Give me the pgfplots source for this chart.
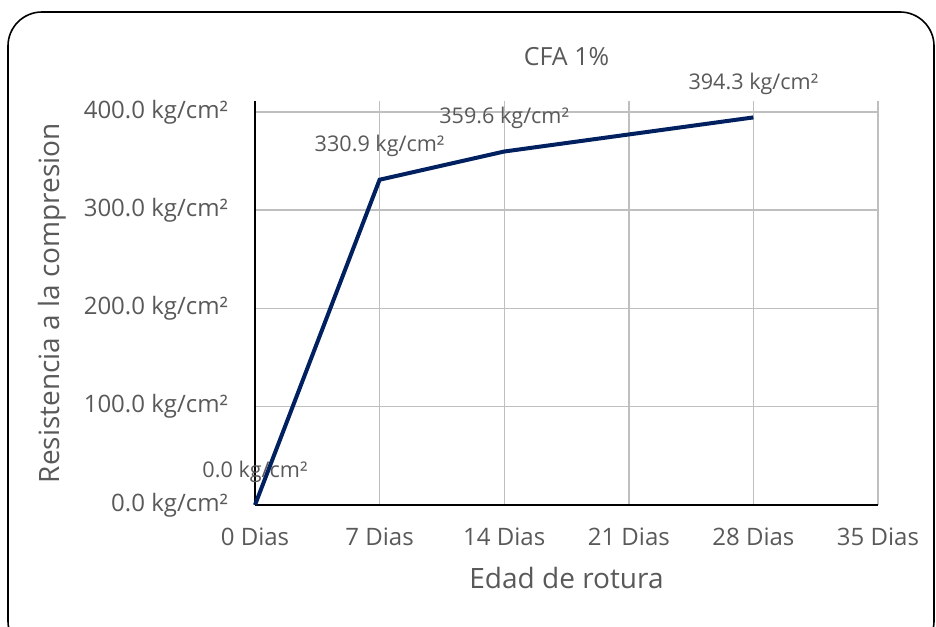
\documentclass[border=0pt]{standalone}
\usepackage{fontspec}
\setmainfont{Open Sans}
\usepackage{pgfplots}
\pgfplotsset{compat=1.18}
\definecolor{txt}{HTML}{595959}
\definecolor{navy}{HTML}{002060}
\definecolor{grid}{HTML}{E3E3E3}
\begin{document}
\begin{tikzpicture}
\useasboundingbox (-127.5pt,-60.5pt) rectangle (340.5pt,252.5pt);
\draw[black, line width=0.8pt, rounded corners=17pt] (-123.5pt,-75pt) rectangle (339.5pt,246.5pt);
\begin{axis}[
    at={(0pt,0pt)}, anchor=origin,
    scale only axis,
    width=311.5pt, height=202pt,
    xmin=0, xmax=35, ymin=0, ymax=411,
    xtick={0,7,14,21,28,35},
    xticklabels={0 Dias, 7 Dias, 14 Dias, 21 Dias, 28 Dias, 35 Dias},
    ytick={0,100,200,300,400},
    yticklabels={0.0 kg/cm², 100.0 kg/cm², 200.0 kg/cm², 300.0 kg/cm², 400.0 kg/cm²},
    axis x line*=bottom, axis y line*=left,
    axis line style={black, line width=0.8pt, -},
    tick style={draw=none},
    grid=major, grid style={grid, line width=0.7pt},
    ticklabel style={font=\fontsize{12}{14}\selectfont, text=txt},
    xticklabel style={yshift=-8pt},
    yticklabel style={xshift=-10pt},
    title={CFA 1\%},
    title style={font=\fontsize{12.5}{15}\selectfont, text=txt, yshift=8pt},
    xlabel={Edad de rotura},
    ylabel={Resistencia a la compresion},
    label style={font=\fontsize{14}{17}\selectfont, text=txt},
    xlabel style={yshift=-4pt},
    ylabel style={yshift=2pt},
    clip=false,
]
\addplot[navy, line width=2pt, mark=none,
    point meta=explicit symbolic,
    nodes near coords,
    every node near coord/.append style={font=\fontsize{10.8}{13}\selectfont, text=txt, anchor=south, yshift=7pt}]
    coordinates {
    (0,0) [0.0 kg/cm²]
    (7,330.9) [330.9 kg/cm²]
    (14,359.6) [359.6 kg/cm²]
    (28,394.3) [394.3 kg/cm²]
    };
\end{axis}
\end{tikzpicture}
\end{document}
